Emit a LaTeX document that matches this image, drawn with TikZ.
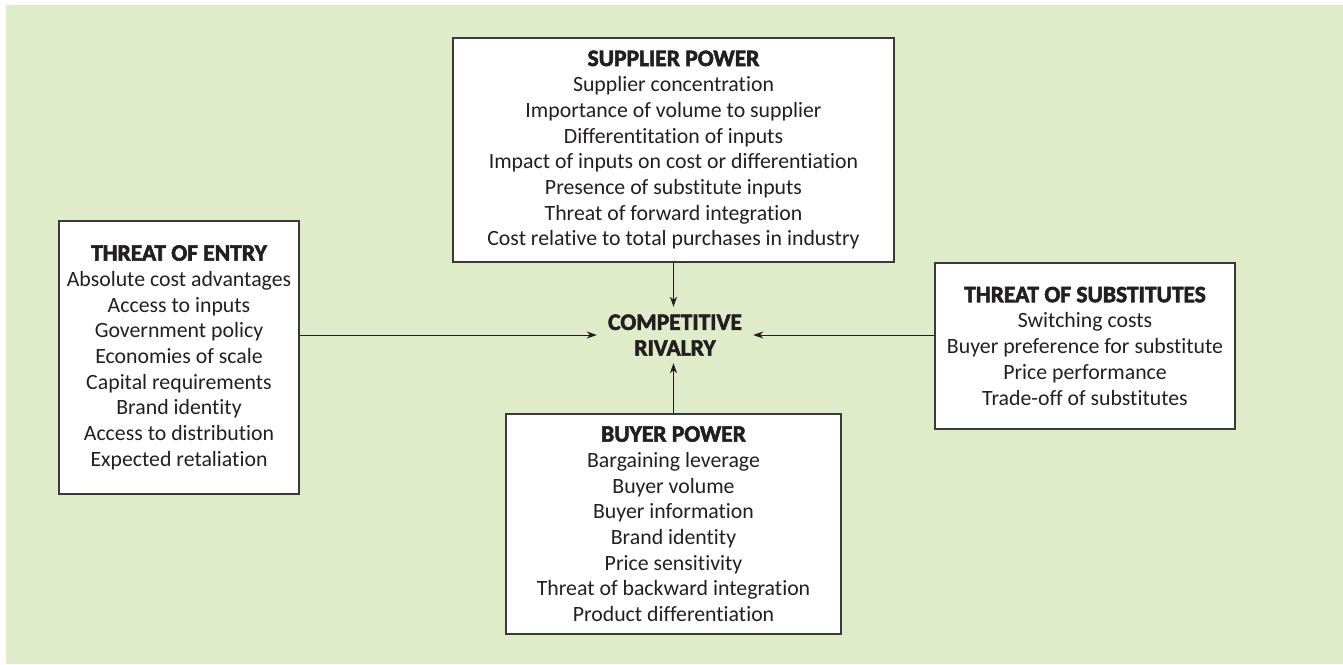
\documentclass[tikz,border=0pt]{standalone}
\usepackage{fontspec}
\setmainfont{Carlito}[Ligatures={NoCommon}]
\newfontfamily\hdfontbase{Carlito}[Ligatures={NoCommon},BoldFeatures={FakeBold=2.5}]
\usetikzlibrary{arrows.meta}
\definecolor{bggreen}{HTML}{DFECCA}
\definecolor{ink}{HTML}{231F20}
\definecolor{frame}{HTML}{3A3A3A}
\newcommand{\hdfont}{\fontsize{23.5}{25.7}\selectfont\hdfontbase\bfseries}
\tikzset{
  forcebox/.style={draw=frame, line width=1.3pt, fill=white, align=center,
    inner sep=0pt, text=ink, font=\fontsize{21.8}{25.7}\selectfont},
  rivalnode/.style={align=center, inner sep=0pt, text=ink,
    font=\hdfont},
  arr/.style={draw=ink, line width=1pt, -{Stealth[length=10pt,width=7pt,inset=3pt]}}
}
\newcommand{\hd}[1]{{\hdfont #1}}
\begin{document}
\begin{tikzpicture}[x=1pt,y=-1pt]
\useasboundingbox (0,0) rectangle (1343,664);
\fill[white] (0,0) rectangle (1343,664);
\fill[bggreen] (6,5) rectangle (1343,664);

\node[forcebox, minimum width=441pt, minimum height=224pt] (supp) at (673.5,150)
  {\hd{SUPPLIER POWER}\\ Supplier concentration\\ Importance of volume to supplier\\
   Differentitation of inputs\\ Impact of inputs on cost or differentiation\\
   Presence of substitute inputs\\ Threat of forward integration\\
   Cost relative to total purchases in industry};

\node[forcebox, minimum width=240pt, minimum height=273pt] (entry) at (179,357.5)
  {\hd{THREAT OF ENTRY}\\ Absolute cost advantages\\ Access to inputs\\ Government policy\\
   Economies of scale\\ Capital requirements\\ Brand identity\\ Access to distribution\\
   Expected retaliation};

\node[forcebox, minimum width=300pt, minimum height=166pt] (subst) at (1085,346)
  {\hd{THREAT OF SUBSTITUTES}\\ Switching costs\\ Buyer preference for substitute\\
   Price performance\\ Trade-off of substitutes};

\node[forcebox, minimum width=335pt, minimum height=220pt] (buyer) at (673.5,524)
  {\hd{BUYER POWER}\\ Bargaining leverage\\ Buyer volume\\ Buyer information\\ Brand identity\\
   Price sensitivity\\ Threat of backward integration\\ Product differentiation};

\node[rivalnode, minimum width=156pt, minimum height=56pt] (rival) at (675,335)
  {COMPETITIVE\\ RIVALRY};

\draw[arr] (supp.south) -- (supp.south |- rival.north);
\draw[arr] (buyer.north) -- (buyer.north |- rival.south);
\draw[arr] (entry.east |- rival.west) -- (rival.west);
\draw[arr] (subst.west |- rival.east) -- (rival.east);
\end{tikzpicture}
\end{document}
